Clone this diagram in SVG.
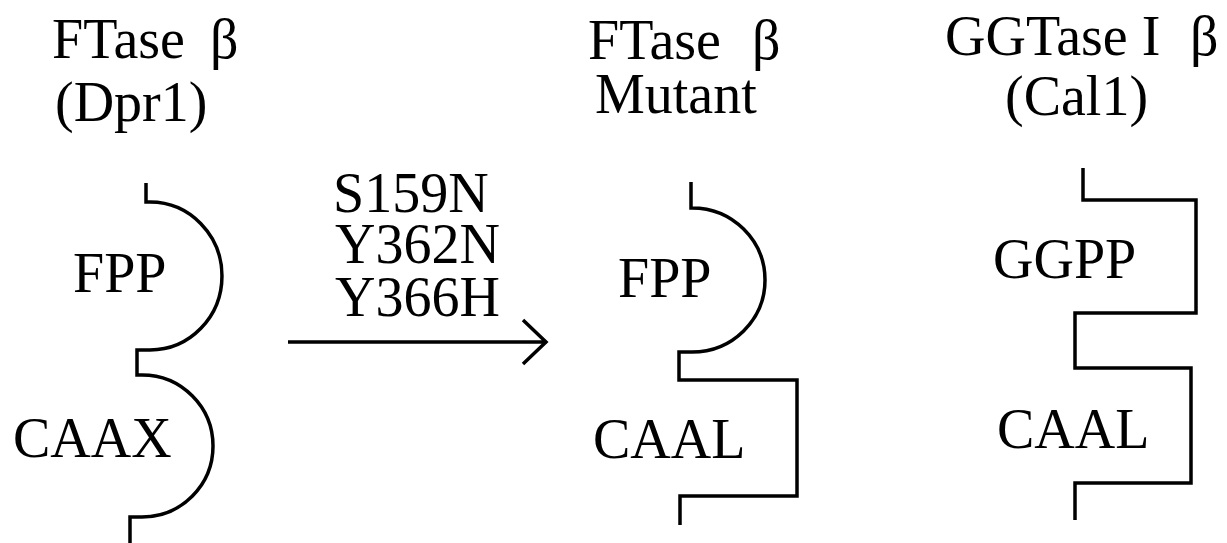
<svg xmlns="http://www.w3.org/2000/svg" width="1227" height="543" viewBox="0 0 1227 543">
  <style>
    text { font-family: "Liberation Serif", "Times New Roman", serif; font-size: 56px; fill: #000; }
    .outline { fill: none; stroke: #000; stroke-width: 3.5; stroke-linejoin: miter; stroke-linecap: butt; }
  </style>
  <rect width="1227" height="543" fill="#fff"/>

  <!-- Wild-type FTase beta: two rounded pockets -->
  <g id="ftase-dpr1">
    <text x="52" y="58">FTase <tspan x="210">β</tspan></text>
    <text x="55" y="121">(Dpr1)</text>
    <path class="outline" d="M146,183 V202 H150 A72,74 0 0 1 150,350 H137 V375 H142 A71,71 0 0 1 142,517 H130 V543"/>
    <text x="73" y="292">FPP</text>
    <text x="13" y="457">CAAX</text>
  </g>

  <!-- Mutant FTase beta: rounded FPP pocket, square CAAL pocket -->
  <g id="ftase-mutant">
    <text x="588" y="59">FTase <tspan x="752">β</tspan></text>
    <text x="595" y="113">Mutant</text>
    <path class="outline" d="M691,182 V208 H692 A73,72 0 0 1 692,352 H679 V380 H797 V496 H680 V525"/>
    <text x="618" y="297">FPP</text>
    <text x="593" y="458">CAAL</text>
  </g>

  <!-- GGTase I beta: two square pockets -->
  <g id="ggtase-cal1">
    <text x="945" y="55">GGTase I <tspan x="1190">β</tspan></text>
    <text x="1005" y="115">(Cal1)</text>
    <path class="outline" d="M1083,168 V200 H1196 V313 H1075 V368 H1191 V483 H1075 V520"/>
    <text x="993" y="278">GGPP</text>
    <text x="997" y="448">CAAL</text>
  </g>

  <!-- Mutation arrow -->
  <g id="connectors">
    <path class="outline" d="M288,342 H547 M523,320 L546,342 L523,364"/>
    <text x="333" y="212">S159N</text>
    <text x="335" y="263">Y362N</text>
    <text x="335" y="316">Y366H</text>
  </g>
</svg>
